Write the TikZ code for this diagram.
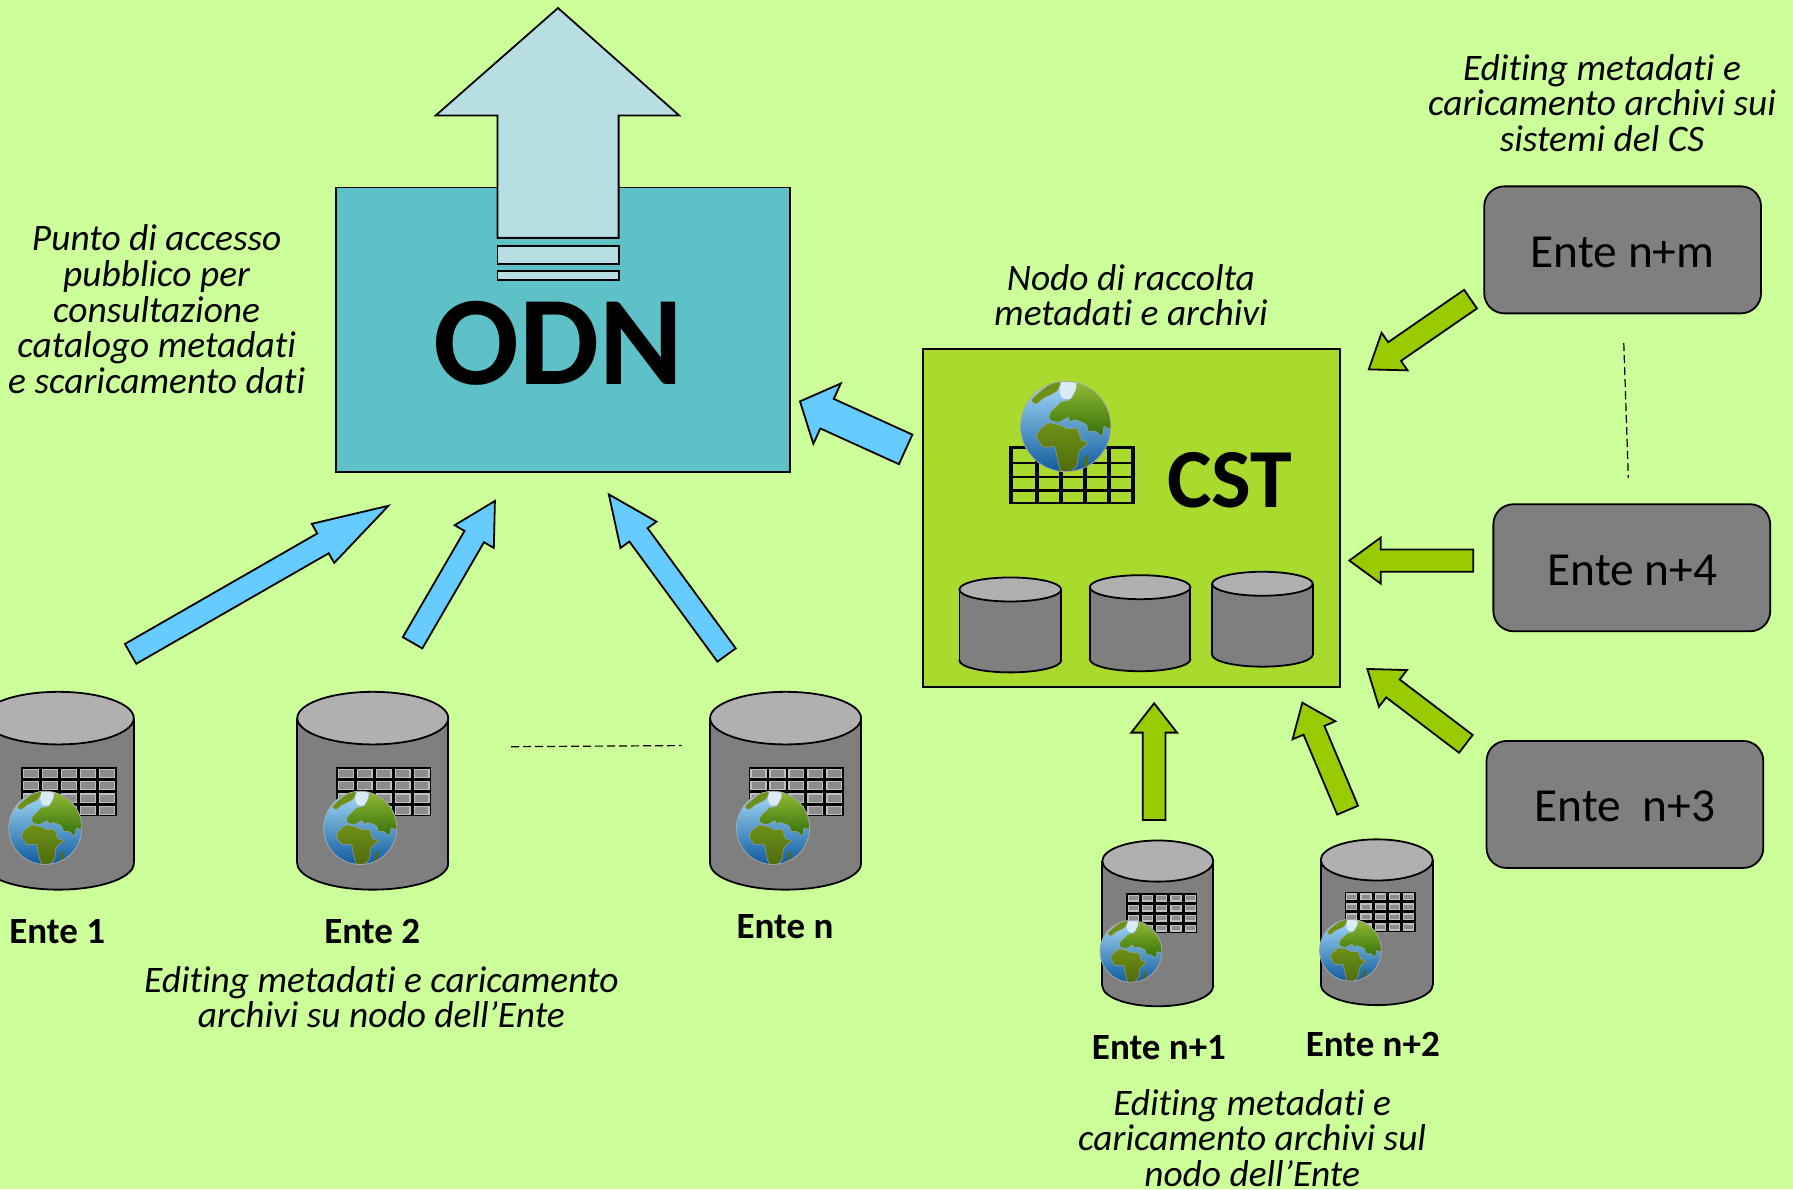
\documentclass[tikz,border=0pt]{standalone}
\usepackage{fontspec}
\setmainfont[Ligatures=NoCommon]{Carlito}
\usetikzlibrary{calc}
\definecolor{bg}{HTML}{CCFF99}
\definecolor{odnfill}{HTML}{5FC1C8}
\definecolor{cstfill}{HTML}{A9DB2E}
\definecolor{upfill}{HTML}{B7DFE3}
\definecolor{bluearrow}{HTML}{66CCFF}
\definecolor{olivearrow}{HTML}{99CC00}
\definecolor{boxgray}{HTML}{7F7F7F}
\definecolor{topgray}{HTML}{B0B0B0}
\definecolor{seal}{HTML}{A6DBF8}
\definecolor{sear}{HTML}{0F5C9E}
\definecolor{capc}{HTML}{D9ECF5}
\definecolor{asiat}{HTML}{93BC35}
\definecolor{asiab}{HTML}{357208}
\definecolor{afrt}{HTML}{6E9015}
\definecolor{afrb}{HTML}{4F6A10}
\tikzset{
  note/.style={font=\fontsize{18.7}{17.8}\selectfont\itshape,align=center,inner sep=0pt},
  entelabel/.style={font=\fontsize{18.5}{20}\selectfont\bfseries,inner sep=0pt},
  entebox/.style={draw=black,line width=0.9pt,fill=boxgray,rounded corners=10pt,minimum width=138.4pt,minimum height=63.5pt,inner sep=0pt},
  boxtext/.style={font=\fontsize{23.7}{26}\selectfont,inner sep=0pt},
  blockline/.style={draw=black,line width=0.9pt,miter limit=10},
  thindash/.style={draw=black,line width=0.6pt,dash pattern=on 4pt off 2pt},
  coast/.style={draw=gray!70,line width=0.2pt},
}
% block arrow between two named coordinates: tail, tip, colour, half shaft, half head, head length
\newcommand\blockarrow[6]{%
  \pgfmathsetlengthmacro\bsw{#4*0.5718pt}%
  \pgfmathsetlengthmacro\bhw{#5*0.5718pt}%
  \pgfmathsetlengthmacro\bhl{#6*0.5718pt}%
  \coordinate (bh) at ($(#2)!\bhl!(#1)$);
  \path[blockline,fill=#3]
    ($(#1)!\bsw!90:(#2)$) -- ($(bh)!\bsw!90:(#2)$) -- ($(bh)!\bhw!90:(#2)$) -- (#2)
    -- ($(bh)!\bhw!-90:(#2)$) -- ($(bh)!\bsw!-90:(#2)$) -- ($(#1)!\bsw!-90:(#2)$) -- cycle;
}
% cylinder: x1, x2, top, bottom, ry
\newcommand\cyl[5]{%
  \pgfmathsetmacro\cxm{(#1+#2)/2}%
  \pgfmathsetmacro\crx{(#2-#1)/2}%
  \pgfmathsetmacro\cyt{#3+#5}%
  \pgfmathsetmacro\cyb{#4-#5}%
  \draw[line width=0.9pt,fill=boxgray] (\cxm,\cyb) ellipse[x radius=\crx,y radius=#5];
  \fill[boxgray] (#1,\cyt) rectangle (#2,\cyb);
  \draw[line width=0.9pt] (#1,\cyt) -- (#1,\cyb) (#2,\cyt) -- (#2,\cyb);
  \draw[line width=0.9pt,fill=topgray] (\cxm,\cyt) ellipse[x radius=\crx,y radius=#5];
}
% table with light cells: x1,x2,y1,y2
\newcommand\cellgrid[4]{%
  \fill[black] (#1,#3) rectangle (#2,#4);
  \pgfmathsetmacro\cw{(#2-#1)/5}%
  \pgfmathsetmacro\ch{(#4-#3)/4}%
  \foreach \ci in {0,...,4}{\foreach \cj in {0,...,3}{%
    \draw[fill=gray!90,draw=white!75!black,line width=0.6pt]
      ({#1+\ci*\cw+1.8},{#3+\cj*\ch+1.8}) rectangle ({#1+(\ci+1)*\cw-1.8},{#3+(\cj+1)*\ch-1.8});
  }}%
}
% globe: cx, cy, r
\newcommand\globe[3]{%
  \begin{scope}[shift={(#1,#2)},xscale=#3,yscale=-#3]
    \begin{scope}
      \clip (0,0) circle[radius=1];
      \shade[left color=seal,right color=sear,shading angle=0] (-1,-1) rectangle (1,1);
      \fill[capc] plot[smooth cycle,tension=0.6] coordinates {(-0.1,1.02) (0.3,1.02) (0.3,0.75) (0.1,0.62) (-0.1,0.66)};
      \shade[top color=asiat,bottom color=asiab,coast] plot[smooth cycle,tension=0.5] coordinates {(0.3,1) (0.78,0.68) (1.05,0.1) (0.95,-0.05) (0.85,0) (0.8,-0.2) (0.65,-0.1) (0.5,-0.1) (0.45,0.05) (0.2,0.15) (0.1,0.1) (0.05,0.2) (-0.15,0.1) (-0.35,0.15) (-0.35,0.3) (-0.2,0.45) (-0.1,0.55) (0.1,0.6) (0.22,0.8)};
      \shade[top color=afrt,bottom color=afrb,coast] plot[smooth cycle,tension=0.5] coordinates {(-0.65,-0.2) (-0.5,0) (-0.35,0.08) (-0.1,0.02) (0.05,-0.05) (0.25,-0.05) (0.35,-0.3) (0.5,-0.35) (0.3,-0.55) (0.25,-0.85) (0.1,-1) (-0.1,-1) (-0.2,-0.65) (-0.25,-0.45) (-0.5,-0.45)};
      \fill[afrt,coast] plot[smooth cycle,tension=0.5] coordinates {(-0.75,0.6) (-0.4,0.9) (-0.12,1) (-0.2,0.78) (-0.5,0.62) (-0.65,0.5)};
      \fill[afrb] plot[smooth cycle,tension=0.7] coordinates {(0.42,-0.72) (0.5,-0.62) (0.47,-0.85) (0.4,-0.92)};
    \end{scope}
    \draw[gray!70,line width=0.4pt] (0,0) circle[radius=1];
  \end{scope}
}
\begin{document}
\begin{tikzpicture}[x=0.5718pt,y=-0.5718pt]
\useasboundingbox (0,0) rectangle (1568,1039.8);
\clip (0,0) rectangle (1568,1039.8);
\fill[bg] (0,0) rectangle (1568,1039.8);

% ODN
\draw[line width=0.9pt,fill=odnfill] (294,164) rectangle (691,413);
\draw[line width=0.9pt,fill=upfill] (488,7) -- (594,101) -- (541,101) -- (541,208) -- (435,208) -- (435,101) -- (381,101) -- cycle;
\draw[line width=0.9pt,fill=upfill] (435,215) rectangle (541,231);
\draw[line width=0.9pt,fill=upfill] (435,237) rectangle (541,245);
\node[font=\fontsize{63.5}{70}\selectfont\bfseries,inner sep=0pt] (odn) at (488,300) {ODN};

% CST
\draw[line width=0.9pt,fill=cstfill] (807,305) rectangle (1172,601);
\node[font=\fontsize{42}{50}\selectfont\bfseries,inner sep=0pt] (cst) at (1075.5,420) {CST};
\foreach \gx in {884.4,907,927.9,949,969.5,990.6}{\draw[line width=2pt] (\gx,390) -- (\gx,441);}
\foreach \gy in {391.5,405,417.2,428.8,440}{\draw[line width=1.35pt] (882,\gy) -- (992.6,\gy);}
\globe{932}{373}{39.5}
\cyl{839}{928}{505}{588}{10.5}
\cyl{953}{1041}{503}{587}{10.5}
\cyl{1060}{1148}{500}{583}{10.5}

% big cylinders
\cyl{-15}{117}{605}{778}{23}
\cellgrid{18.6}{102}{671}{714}
\globe{39.6}{724}{32}
\cyl{260}{392}{605}{778}{23}
\cellgrid{294}{377}{671}{714}
\globe{315}{724}{32}
\cyl{621}{753}{605}{778}{23}
\cellgrid{655}{738}{671}{714}
\globe{676}{724}{32}
% small cylinders
\cyl{964}{1061}{735}{880}{18}
\cellgrid{985}{1047}{781}{816}
\globe{989}{832}{27}
\cyl{1155}{1253}{734}{879}{18}
\cellgrid{1176}{1238}{780}{815}
\globe{1181}{831}{27}

% Ente boxes
\node[entebox] (em) at (1419,218.5) {};
\node[boxtext] (emt) at (1419,220.5) {Ente n+m};
\node[entebox] (e4) at (1427,496.5) {};
\node[boxtext] (e4t) at (1427.5,498.5) {Ente n+4};
\node[entebox] (e3) at (1421,703.5) {};
\node[boxtext] (e3t) at (1421,705.5) {Ente\ \ n+3};

% labels
\node[entelabel] (l1) at (50,815) {Ente 1};
\node[entelabel] (l2) at (325.5,815) {Ente 2};
\node[entelabel] (ln) at (686.5,810) {Ente n};
\node[entelabel] (ln1) at (1013.5,916) {Ente n+1};
\node[entelabel] (ln2) at (1200.5,913) {Ente n+2};
\node[note] (n1) at (137,270.5) {Punto di accesso\\pubblico per\\consultazione\\catalogo metadati\\e scaricamento dati};
\node[note] (n2) at (1401,90) {Editing metadati e\\caricamento archivi sui\\sistemi del CS};
\node[note] (n3) at (989,258) {Nodo di raccolta\\metadati e archivi};
\node[note] (n4) at (333.5,872) {Editing metadati e caricamento\\archivi su nodo dell’Ente};
\node[note] (n5) at (1095,995) {Editing metadati e\\caricamento archivi sul\\nodo dell’Ente};

% arrow ends
\coordinate (a1t) at (114.2,571.8); \coordinate (a1h) at (339.7,442.3);
\coordinate (a2t) at (360.8,562.1); \coordinate (a2h) at (432.8,438.1);
\coordinate (a3t) at (635.4,572.8); \coordinate (a3h) at (532.4,432.3);
\coordinate (a4t) at (792,393); \coordinate (a4h) at (699.6,351);
\coordinate (b1t) at (1286,261.6); \coordinate (b1h) at (1197,323);
\coordinate (b2t) at (1288.4,490.2); \coordinate (b2h) at (1180,490.2);
\coordinate (b3t) at (1281.9,650.5); \coordinate (b3h) at (1195.7,585);
\coordinate (b4t) at (1009.3,717.1); \coordinate (b4h) at (1009.3,615);
\coordinate (b5t) at (1178.5,708.5); \coordinate (b5h) at (1138.9,614.5);
\blockarrow{a1t}{a1h}{bluearrow}{10}{19.7}{66}
\blockarrow{a2t}{a2h}{bluearrow}{9.85}{19.8}{36}
\blockarrow{a3t}{a3h}{bluearrow}{9.9}{19.5}{43.9}
\blockarrow{a4t}{a4h}{bluearrow}{14.2}{29}{26}
\blockarrow{b1t}{b1h}{olivearrow}{9.9}{20}{27.4}
\blockarrow{b2t}{b2h}{olivearrow}{9.75}{20.1}{27.4}
\blockarrow{b3t}{b3h}{olivearrow}{9.8}{20.2}{28.2}
\blockarrow{b4t}{b4h}{olivearrow}{9.9}{20}{25.7}
\blockarrow{b5t}{b5h}{olivearrow}{9.9}{20.3}{26.2}

% dashed
\coordinate (d1) at (447,653); \coordinate (d2) at (596,652);
\coordinate (d3) at (1420,300); \coordinate (d4) at (1424,418);
\draw[thindash] (d1) -- (d2);
\draw[thindash] (d3) -- (d4);
\end{tikzpicture}
\end{document}
